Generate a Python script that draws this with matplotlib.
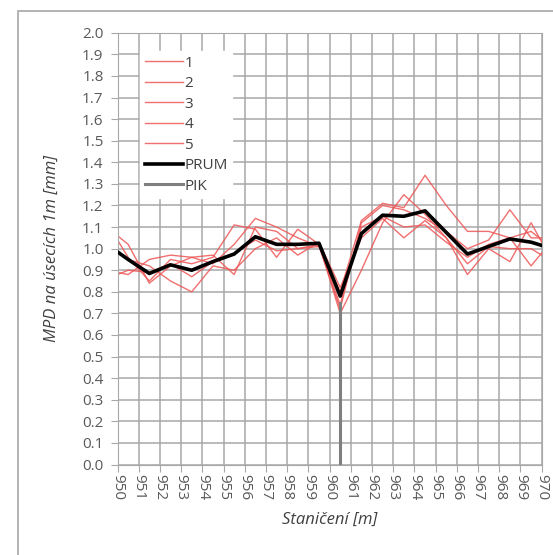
import matplotlib
matplotlib.use("Agg")
import matplotlib.pyplot as plt
from matplotlib.patches import Rectangle
import numpy as np

# stationing of the 1 m segments (end points + segment mid-points)
X = [950.0, 950.5, 951.5, 952.5, 953.5, 954.5, 955.5, 956.5, 957.5, 958.5, 959.5,
     960.5, 961.5, 962.5, 963.5, 964.5, 965.5, 966.5, 967.5, 968.5, 969.5, 970.0]

S1 = [1.06, 1.02, 0.84, 0.92, 0.96, 0.97, 0.88, 1.10, 1.08, 1.00, 1.02,
      0.72, 1.12, 1.20, 1.18, 1.14, 1.08, 1.00, 1.04, 1.18, 1.05, 1.05]
S2 = [0.89, 0.88, 0.95, 0.97, 0.96, 0.93, 1.02, 1.14, 1.10, 1.05, 1.01,
      0.80, 1.13, 1.21, 1.19, 1.34, 1.20, 1.08, 1.08, 1.05, 0.92, 0.98]
S3 = [1.04, 0.96, 0.85, 0.95, 0.93, 0.96, 1.11, 1.09, 0.96, 1.09, 1.02,
      0.70, 0.90, 1.12, 1.25, 1.16, 1.05, 0.88, 1.00, 0.94, 1.12, 1.03]
S4 = [0.98, 0.95, 0.92, 0.85, 0.80, 0.92, 0.90, 1.00, 1.05, 0.97, 1.03,
      0.82, 1.05, 1.14, 1.05, 1.13, 1.05, 0.93, 1.01, 1.00, 1.00, 0.97]
S5 = [0.88, 0.90, 0.89, 0.93, 0.87, 0.94, 0.98, 1.04, 0.99, 1.00, 1.01,
      0.74, 1.10, 1.15, 1.10, 1.11, 1.03, 0.96, 1.02, 1.05, 1.08, 1.04]
PRUM = [0.985, 0.95, 0.885, 0.925, 0.90, 0.94, 0.975, 1.055, 1.02, 1.02, 1.025,
        0.78, 1.07, 1.155, 1.15, 1.175, 1.075, 0.975, 1.01, 1.045, 1.03, 1.015]
PIK_X = [960.5, 960.5]
PIK_Y = [0.0, 0.75]

RED = "#ee5656"
GRID = "#a8a8a8"
TXT = "#595959"

plt.rcParams.update({"font.family": ["Open Sans", "DejaVu Sans"], "font.size": 11})

fig = plt.figure(figsize=(5.53, 5.55), dpi=100)
fig.patches.append(Rectangle((17.6 / 553, -0.2), 1.2, 0.2 + 1 - 10.6 / 555,
                             transform=fig.transFigure, fill=False,
                             edgecolor="#a6a6a6", lw=1.2))
ax = fig.add_axes([117.5 / 553, 1 - 464.5 / 555, 424.2 / 553, 431.7 / 555])

for i, s in enumerate([S1, S2, S3, S4, S5]):
    ax.plot(X, s, color=RED, lw=1.0, alpha=0.85, label=str(i + 1))
ax.plot(X, PRUM, color="black", lw=2.6, label="PRUM", zorder=5)
ax.plot(PIK_X, PIK_Y, color="#7f7f7f", lw=2.2, label="PIK", zorder=4)

ax.set_xlim(950, 970)
ax.set_ylim(0, 2.0)
ax.set_xticks(np.arange(950, 971, 1))
ax.set_yticks(np.arange(0, 2.01, 0.1))
ax.set_yticklabels([f"{v:.1f}" for v in np.arange(0, 2.01, 0.1)])
ax.tick_params(axis="x", labelrotation=-90, colors=GRID, labelcolor=TXT,
               length=5, labelsize=11, pad=2)
ax.tick_params(axis="y", colors=GRID, labelcolor=TXT, length=5,
               labelsize=11, pad=5)
ax.grid(True, color=GRID, lw=1.1)
for sp in ax.spines.values():
    sp.set_color(GRID)
ax.set_axisbelow(True)

ax.set_xlabel("Staničení [m]", style="italic", color="#404040", fontsize=12, labelpad=8)
ax.set_ylabel("MPD na úsecích 1m [mm]", style="italic", color="#404040", fontsize=12, labelpad=16)

leg = ax.legend(loc="upper left", bbox_to_anchor=(0.035, 0.975), frameon=True,
                fancybox=False, edgecolor="white", facecolor="white", framealpha=1,
                handlelength=2.5, handletextpad=0.1, labelspacing=0.36,
                borderpad=0.3, fontsize=11)
for t in leg.get_texts():
    t.set_color("#404040")

fig.savefig("out.png", dpi=100)
